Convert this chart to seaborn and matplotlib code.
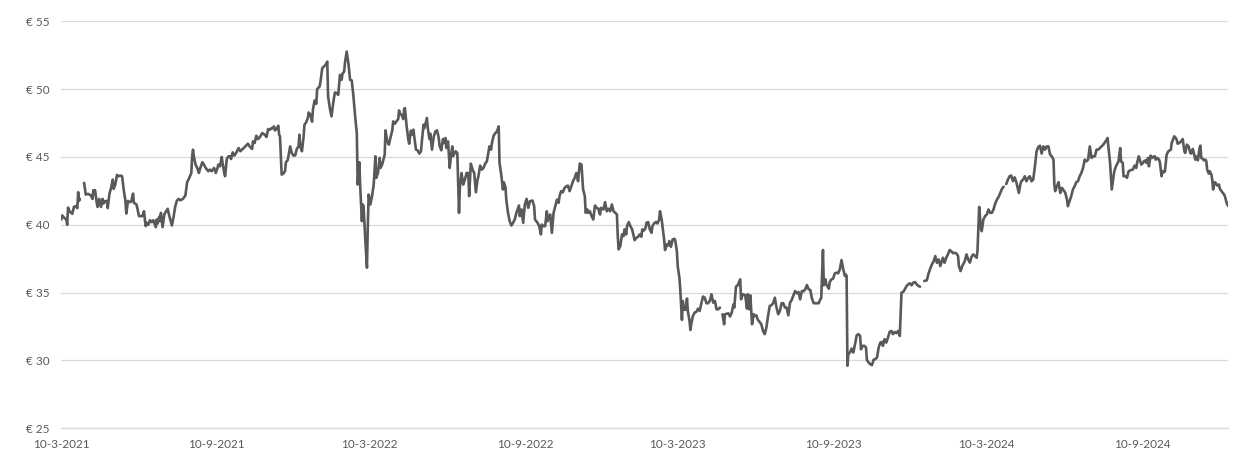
import numpy as np
import pandas as pd
import matplotlib
matplotlib.use("Agg")
import matplotlib.pyplot as plt
import seaborn as sns

# Share price (EUR). Days counted from START_DATE,
# None marks a missing quote (Excel leaves a gap there).
START_DATE = "2021-03-10"
END_DATE = "2024-12-21"

days_since_start = [
    0, 1, 4, 6, 7, 8, 10, 13, 15, 17, 19, 20, 21, 22, 24, 27, 29, 32, 35, 37,
    38, 40, 42, 43, 45, 47, 49, 50, 52, 54, 55, 57, 59, 61, 62, 64, 66, 68, 70, 72,
    73, 74, 76, 77, 79, 81, 83, 85, 86, 89, 90, 92, 94, 96, 98, 99, 100, 101, 103, 105,
    107, 109, 110, 112, 113, 114, 116, 117, 118, 120, 122, 124, 126, 128, 131, 133, 135, 137, 139, 141,
    144, 147, 149, 151, 154, 155, 156, 157, 159, 161, 163, 164, 167, 169, 171, 174, 176, 178, 181, 183,
    185, 186, 188, 190, 191, 193, 194, 196, 198, 200, 201, 203, 205, 207, 208, 210,
    212, 216, 218, 221, 223, 226, 227, 229, 231, 233, 235, 238, 241, 243, 245, 247, 249, 250, 252, 253,
    255, 257, 258, 259, 261, 263, 265, 266, 268, 269, 271, 273, 275, 277, 279, 281, 282, 283, 285, 287,
    288, 290, 292, 293, 295, 297, 298, 300, 302, 303, 306, 307, 309, 311, 313, 315, 316, 318, 320, 322,
    324, 326, 328, 330, 332, 333, 335, 336, 338, 340, 342, 344, 346, 348, 350, 351, 353, 354, 356, 357,
    358, 360, 362, 363, 364, 366, 368, 370, 372, 373, 375, 377, 378, 380, 381, 383, 384, 386, 388, 390,
    392, 393, 395, 396, 399, 400, 401, 403, 405, 406, 407, 409, 411, 412, 414, 415, 417, 418, 420, 422,
    424, 426, 427, 429, 430, 433, 434, 436, 437, 439, 441, 443, 445, 447, 448, 450, 452, 453, 455, 456,
    458, 460, 461, 463, 464, 466, 467, 469, 471, 472,
    474, 476, 478, 480, 482, 483, 485, 487, 489, 491, 493, 494, 496, 498, 500, 502, 504, 507, 509, 510,
    512, 514, 516, 518, 519, 521, 523, 524, 526, 527, 529, 531, 533, 535, 537, 539, 542, 543, 545, 547,
    549, 551, 553, 555, 558, 560, 561, 564, 566, 568, 569, 571, 573, 575, 576, 578, 579, 581, 583, 585,
    587, 589, 590, 592, 594, 596, 598, 600, 602, 604, 606, 608, 610, 612, 614, 616, 618, 620, 621, 623,
    624, 626, 628, 630, 632, 634, 636, 638, 639, 642, 644, 646, 648, 650, 652, 654, 656, 658, 659, 660,
    662, 664, 666, 667, 669, 670, 672, 674, 676, 677, 679, 681, 683, 685, 687, 688, 690, 692, 693, 695,
    697, 699, 700, 702, 704, 706, 708, 709, 711, 712, 714, 715, 717, 719, 720, 722, 724, 726, 727, 729,
    730, 732, 733, 735, 736, 737, 739, 741, 742, 744, 745,
    746, 748, 750, 752, 754, 756, 758, 760, 762, 764, 766, 768, 770, 772, 774, 776, 778, 780, 782, 783,
    785, 786, 790, 792, 794, 796, 797, 799, 801, 804, 805, 807, 810, 812, 813, 815, 816, 818, 820, 821,
    823, 825, 827, 829, 831, 833, 835, 837, 839, 841, 843, 845, 847, 849, 851, 853, 855, 857, 859, 861,
    863, 865, 867, 869, 871, 873, 875, 877, 879, 881, 883, 885, 887, 889, 891, 893, 895, 897, 898, 900,
    902, 903, 905, 906, 909, 910, 912, 914, 916, 918, 920, 922, 924, 926, 928, 929, 930, 931, 932, 934,
    936, 938, 940, 942, 944, 946, 947, 949, 951, 953, 954, 956, 958, 960, 962, 964, 966, 968, 970, 972,
    973, 975, 977, 979, 981, 983, 985, 987, 989, 991, 993, 995, 997, 999, 1001, 1003, 1005, 1007, 1009, 1011,
    1013, 1015, 1017, 1020,
    1022, 1025, 1027, 1029, 1031, 1033, 1035, 1037, 1039, 1041, 1044, 1046, 1048, 1050, 1052, 1054, 1056, 1058, 1060, 1062,
    1063, 1065, 1067, 1070, 1072, 1074, 1076, 1078, 1080, 1082, 1084, 1085, 1087, 1089, 1090, 1092, 1094, 1096, 1098, 1100,
    1102, 1104, 1106, 1108, 1110, 1112, 1114, 1116, 1117, 1119, 1121, 1123, 1125, 1127, 1129, 1131, 1134, 1136, 1137, 1139,
    1141, 1143, 1145, 1147, 1149, 1151, 1153, 1155, 1157, 1159, 1161, 1163, 1165, 1167, 1169, 1171, 1173, 1175, 1176, 1177,
    1179, 1181, 1183, 1185, 1187, 1189, 1191, 1192, 1194, 1196, 1198, 1200, 1202, 1204, 1206, 1208, 1210, 1212, 1214, 1216,
    1218, 1220, 1222, 1224, 1226, 1228, 1230,
    1234, 1238, 1239, 1242, 1244, 1247, 1249, 1252, 1254, 1255, 1257, 1258, 1261, 1262, 1264, 1266, 1269, 1271, 1273, 1274,
    1276, 1277, 1279, 1281, 1282, 1284, 1285, 1287, 1288, 1290, 1292, 1293, 1295, 1296, 1298, 1300, 1301, 1303, 1304, 1306,
    1307, 1309, 1311, 1314, 1315, 1318, 1319, 1321, 1322, 1324, 1326, 1328, 1330, 1331, 1333, 1335, 1337, 1338, 1340, 1341,
    1343, 1345, 1346, 1348, 1349, 1350, 1352, 1353, 1355, 1356, 1357, 1359, 1360, 1362, 1363, 1364, 1366, 1367, 1369, 1371,
    1372, 1374, 1377, 1378, 1380, 1382,
]

close_eur = [
    40.39, 40.69, 40.49, 40.39, 40.00, 41.27, 40.98, 40.81, 41.32, 41.37, 41.23, 42.40, 41.76, 41.91, None, 43.09, 42.23, 42.28, 42.16, 41.91,
    42.55, 42.55, 41.62, 41.32, 41.91, 41.32, 41.91, 41.57, 41.74, 41.76, 41.23, 42.28, 42.72, 43.33, 42.65, 42.97, 43.68, 43.58, 43.63, 43.58,
    43.09, 42.55, 41.74, 40.83, 41.76, 41.67, 41.72, 42.30, 41.62, 41.50, 41.25, 40.64, 40.64, 40.64, 41.00, 40.39, 39.90, 40.15, 40.00, 40.34,
    40.20, 40.34, 40.15, 39.83, 40.39, 40.10, 40.59, 40.27, 40.88, 39.83, 40.76, 40.98, 41.18, 40.64, 39.95, 40.59, 41.37, 41.79, 41.91, 41.81,
    41.91, 42.16, 43.14, 43.38, 43.82, 45.05, 45.54, 45.05, 44.44, 44.19, 43.82, 44.07, 44.61, 44.44, 44.19, 43.95, 44.07, 43.95, 44.19, 43.82,
    44.19, 44.44, 44.31, 45.00, 44.56, 43.82, 43.58, 44.85, 45.05, 45.05, 44.85, 45.34, 45.10, 45.29, 45.42, 45.66,
    45.42, 45.66, 45.78, 45.98, 45.78, 45.59, 46.15, 46.03, 46.57, 46.32, 46.45, 46.76, 46.64, 46.47, 47.06, 47.01, 47.13, 47.11, 47.25, 46.96,
    47.06, 47.30, 46.64, 46.52, 43.70, 43.77, 43.95, 44.61, 44.75, 45.05, 45.78, 45.29, 45.10, 45.12, 45.61, 45.78, 46.64, 45.78, 45.42, 46.52,
    47.38, 47.55, 47.87, 48.28, 48.11, 47.60, 48.48, 49.17, 48.92, 50.00, 50.20, 50.56, 51.54, 51.67, 51.79, 52.03, 49.46, 48.60, 47.99, 48.97,
    49.75, 49.71, 49.58, 51.05, 50.69, 51.13, 51.30, 51.96, 52.77, 51.91, 50.69, 50.64, 49.46, 47.99, 46.72, 42.97, 44.61, 42.84, 40.27, 41.50,
    41.37, 38.92, 36.84, 39.90, 42.23, 41.50, 42.11, 42.97, 45.05, 43.46, 43.82, 44.93, 44.19, 44.44, 44.68, 45.17, 46.96, 46.15, 45.91, 46.47,
    46.96, 47.62, 47.45, 47.55, 47.79, 48.43, 48.19, 48.11, 47.79, 48.55, 48.60, 47.25, 46.27, 45.98, 46.94, 46.64, 47.01, 46.52, 45.54, 45.49,
    45.25, 45.42, 46.15, 47.38, 47.13, 47.87, 47.13, 46.32, 46.72, 45.54, 46.47, 46.89, 46.96, 46.40, 45.83, 45.49, 46.32, 46.03, 46.40, 45.66,
    46.15, 44.19, 44.80, 45.78, 45.05, 45.29, 45.42, 45.29, 40.88, 42.72,
    43.82, 42.97, 43.33, 43.82, 43.82, 42.11, 44.51, 44.07, 43.82, 42.40, 43.33, 43.58, 44.36, 44.07, 44.19, 44.51, 44.68, 45.78, 45.54, 46.03,
    46.57, 46.76, 46.89, 47.25, 44.56, 43.70, 42.60, 43.14, 42.79, 41.86, 40.88, 40.27, 39.95, 40.15, 40.39, 40.88, 41.42, 40.64, 41.13, 40.15,
    41.50, 41.91, 41.25, 41.74, 41.79, 41.37, 40.39, 40.15, 39.90, 39.29, 40.02, 39.90, 39.90, 41.00, 40.27, 40.64, 40.76, 39.41, 40.88, 41.37,
    41.86, 41.62, 42.11, 42.48, 42.40, 42.72, 42.84, 42.89, 42.48, 42.84, 43.21, 43.46, 43.82, 43.21, 44.51, 44.44, 42.60, 42.11, 40.88, 41.13,
    40.88, 41.00, 40.64, 40.39, 41.42, 41.25, 41.18, 40.76, 41.25, 41.13, 41.67, 41.00, 41.18, 41.00, 41.50, 41.00, 40.88, 40.76, 39.17, 38.19,
    38.43, 39.29, 39.17, 39.66, 39.29, 39.90, 40.20, 39.90, 39.66, 39.41, 38.87, 39.04, 39.12, 39.29, 39.12, 39.66, 39.58, 39.78, 40.15, 40.20,
    39.66, 39.41, 39.90, 40.10, 40.20, 40.10, 40.39, 41.00, 40.39, 39.90, 38.87, 38.14, 38.55, 38.48, 38.80, 38.38, 38.92, 38.97, 38.87, 38.06,
    36.96, 36.10, 35.25, 32.99, 34.39, 33.77, 33.73, 34.56, 33.65, 32.92, 32.25,
    32.67, 33.28, 33.53, 33.58, 33.82, 33.65, 34.22, 34.71, 34.63, 34.22, 34.22, 34.39, 34.88, 34.26, 34.39, 33.77, 33.77, 33.90, None, 33.41,
    32.67, 33.41, 33.48, 33.24, 33.53, 34.14, 33.90, 35.44, 35.54, 35.98, 34.51, 34.88, 34.80, 33.82, 34.88, 33.77, 34.80, 32.67, 33.41, 33.28,
    33.33, 32.99, 32.84, 32.67, 32.18, 31.94, 32.43, 33.28, 34.02, 34.07, 34.22, 34.63, 33.90, 33.41, 33.65, 34.22, 34.22, 33.90, 33.90, 33.33,
    34.26, 34.46, 34.80, 35.12, 34.95, 35.05, 34.51, 35.12, 35.10, 35.25, 35.56, 35.25, 35.20, 34.56, 34.22, 34.22, 34.22, 34.22, 34.39, 34.63,
    38.14, 35.54, 35.98, 35.61, 35.29, 35.78, 35.98, 36.03, 36.42, 36.47, 36.42, 36.72, 37.40, 36.72, 36.23, 36.35, 36.23, 29.61, 30.47, 30.59,
    30.88, 30.59, 31.20, 31.86, 31.94, 31.81, 30.83, 31.08, 31.08, 30.96, 30.05, 29.85, 29.73, 29.66, 30.05, 30.10, 30.22, 30.96, 31.32, 31.37,
    31.08, 31.57, 31.32, 31.69, 32.11, 32.18, 31.94, 32.11, 32.01, 32.18, 31.81, 35.00, 35.05, 35.25, 35.49, 35.61, 35.69, 35.54, 35.74, 35.78,
    35.61, 35.49, 35.44, None,
    35.86, 35.91, 36.40, 36.76, 37.08, 37.30, 37.69, 37.20, 37.45, 36.96, 37.57, 37.20, 37.57, 37.82, 38.14, 38.06, 37.90, 37.94, 37.89, 37.70,
    36.96, 36.59, 36.96, 37.33, 37.82, 37.45, 37.21, 37.65, 37.82, 37.70, 37.57, 38.06, 41.32, 39.78, 39.53, 40.39, 40.64, 40.76, 41.13, 40.88,
    40.88, 41.13, 41.57, 41.86, 42.06, 42.35, 42.65, 42.80, None, 43.00, 43.33, 43.58, 43.63, 43.21, 43.50, 43.14, 42.35, 43.05, 43.21, 43.33,
    43.58, 43.21, 43.46, 43.58, 43.21, 43.33, 44.31, 45.42, 45.74, 45.83, 45.25, 45.78, 45.54, 45.78, 45.78, 45.17, 45.05, 44.80, 42.97, 42.48,
    42.84, 43.14, 42.35, 42.72, 42.55, 42.35, 41.86, 41.37, 41.74, 42.11, 42.60, 42.84, 43.14, 43.21, 43.58, 43.82, 44.19, 44.80, 44.68, 44.80,
    45.78, 44.93, 45.05, 45.05, 45.54, 45.54, 45.66,
    45.91, 46.27, 46.40, 44.56, 42.60, 43.95, 44.31, 44.68, 45.66, 44.68, 44.56, 43.58, 43.58, 43.46, 43.95, 44.02, 44.07, 44.36, 44.19, 44.56,
    45.05, 44.85, 44.44, 44.56, 44.68, 44.75, 44.56, 44.93, 44.31, 45.10, 44.93, 45.00, 45.05, 44.80, 44.93, 44.80, 44.61, 43.58, 43.95, 43.87,
    43.95, 45.17, 45.42, 45.54, 46.03, 46.52, 46.47, 46.27, 45.98, 46.03, 46.15, 46.32, 45.42, 45.29, 45.91, 45.78, 45.29, 45.25, 45.59, 45.34,
    44.80, 45.05, 44.75, 45.66, 45.83, 44.93, 44.85, 44.75, 44.80, 44.68, 44.07, 43.77, 43.95, 43.70, 43.33, 42.60, 43.14, 43.09, 42.89, 42.97,
    42.65, 42.48, 42.23, 42.11, 41.62, 41.37,
]

y_ticks = [25, 30, 35, 40, 45, 50, 55]
y_tick_labels = ["€ 25", "€ 30", "€ 35", "€ 40", "€ 45", "€ 50", "€ 55"]
x_tick_dates = ["2021-03-10", "2021-09-10", "2022-03-10", "2022-09-10",
                "2023-03-10", "2023-09-10", "2024-03-10", "2024-09-10"]
x_tick_labels = ["10-3-2021", "10-9-2021", "10-3-2022", "10-9-2022",
                 "10-3-2023", "10-9-2023", "10-3-2024", "10-9-2024"]

LINE_COLOR = "#595959"
GRID_COLOR = "#d9d9d9"
TEXT_COLOR = "#595959"

df = pd.DataFrame({"day": days_since_start, "price": close_eur})
df["price"] = df["price"].astype(float)
df["date"] = pd.Timestamp(START_DATE) + pd.to_timedelta(df["day"], unit="D")
# each run between missing quotes becomes its own line piece
df["segment"] = df["price"].isna().cumsum()
df = df.dropna(subset=["price"])

sns.set_style("white")
plt.rcParams["font.family"] = ["Lato", "DejaVu Sans"]

fig = plt.figure(figsize=(12.48, 4.61), dpi=100)
ax = fig.add_axes([0.0491, 0.0709, 0.9351, 0.8829])

sns.lineplot(data=df, x="date", y="price", units="segment", estimator=None,
             color=LINE_COLOR, linewidth=1.9, ax=ax, legend=False)

ax.set_ylim(y_ticks[0], y_ticks[-1])
ax.set_yticks(y_ticks)
ax.set_yticklabels(y_tick_labels)
ax.set_xlim(pd.Timestamp(START_DATE), pd.Timestamp(END_DATE))
ax.set_xticks(pd.to_datetime(x_tick_dates))
ax.set_xticklabels(x_tick_labels)

ax.yaxis.grid(True, color=GRID_COLOR, linewidth=0.9)
ax.xaxis.grid(False)
ax.set_axisbelow(True)
for side in ("left", "right", "top"):
    ax.spines[side].set_visible(False)
ax.spines["bottom"].set_color(GRID_COLOR)
ax.spines["bottom"].set_linewidth(0.9)

ax.tick_params(axis="y", length=0, pad=8.5, labelsize=8.5, labelcolor=TEXT_COLOR)
ax.tick_params(axis="x", length=3.5, width=0.9, color=GRID_COLOR, pad=4,
               labelsize=8.5, labelcolor=TEXT_COLOR)
ax.set_xlabel("")
ax.set_ylabel("")

fig.savefig("out.png", dpi=100, facecolor="white")
plt.close(fig)
